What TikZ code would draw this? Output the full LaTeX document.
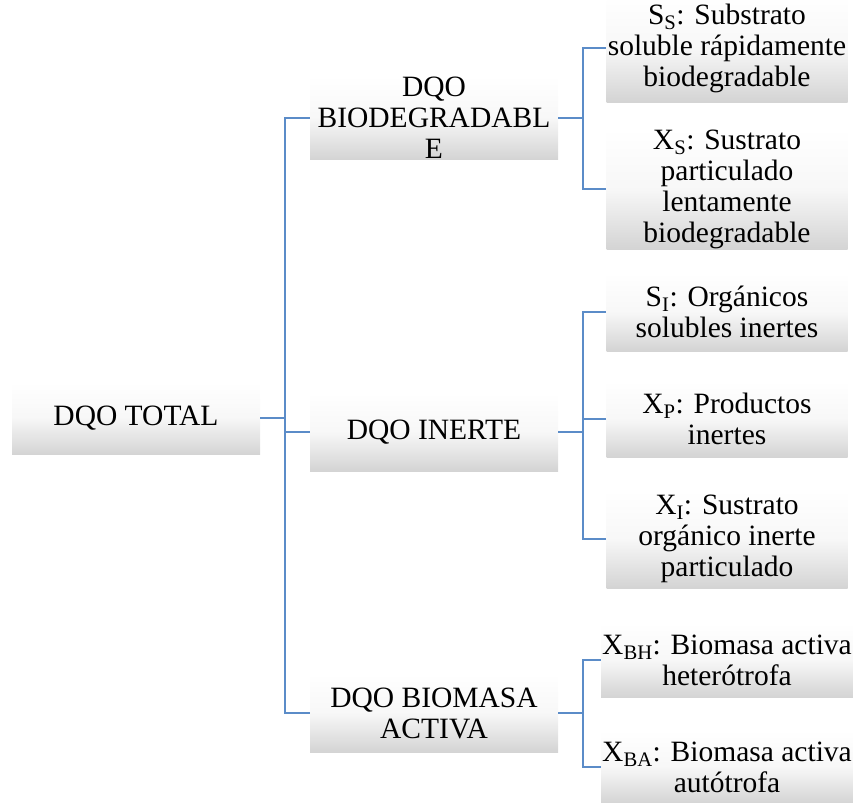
\documentclass[tikz,border=0pt]{standalone}
\usepackage{fontspec}
\setmainfont{Liberation Serif}
\usetikzlibrary{calc}
\definecolor{linkblue}{HTML}{5B8CC8}

\begin{document}
\begin{tikzpicture}[
  x=1pt, y=1pt,
  fadebox/.style={rectangle, draw=none, top color=white, bottom color=black!17, middle color=black!3, minimum width=#1, inner sep=1pt, align=center, font=\fontsize{29.5}{31}\selectfont},
  rootbox/.style={fadebox=248pt, minimum height=72pt},
  groupbox/.style={fadebox=248pt},
  leafbox/.style={fadebox=241pt},
  link/.style={draw=linkblue, line width=1.5pt}
]
  \useasboundingbox (0,0) rectangle (857,-803);

  % Root
  \node[rootbox] at (136,-418) (total) {DQO TOTAL};

  % Second level
  \node[groupbox, minimum height=76pt] at (434,-118) (bio) {DQO\\BIODEGRADABL\\E};
  \node[groupbox, minimum height=78pt] at (434,-432) (inerte) {DQO INERTE};
  \node[groupbox, minimum height=78pt] at (434,-713) (biomasa) {DQO BIOMASA\\ACTIVA};

  % Third level
  \node[leafbox, minimum height=108pt] at (727,-48) (ss) {S\textsubscript{S}: Substrato\\soluble rápidamente\\biodegradable};
  \node[leafbox, minimum height=116pt] at (727,-189) (xs) {X\textsubscript{S}: Sustrato\\particulado\\lentamente\\biodegradable};
  \node[leafbox, minimum height=78pt] at (727,-312) (si) {S\textsubscript{I}: Orgánicos\\solubles inertes};
  \node[leafbox, minimum height=76pt] at (727,-419) (xp) {X\textsubscript{P}: Productos\\inertes};
  \node[leafbox, minimum height=98pt] at (727,-539) (xi) {X\textsubscript{I}: Sustrato\\orgánico inerte\\particulado};
  \node[leafbox, minimum height=74pt] at (727,-660) (xbh) {X\textsubscript{BH}: Biomasa activa\\heterótrofa};
  \node[leafbox, minimum height=74pt] at (727,-767) (xba) {X\textsubscript{BA}: Biomasa activa\\autótrofa};

  % Connections
  \draw[link] (total.east) -- ++(25,0) coordinate (hub0);
  \foreach \n in {bio, inerte, biomasa}
    \draw[link] (hub0) |- (\n.west);

  \draw[link] (bio.east) -- ++(25,0) coordinate (hub1);
  \foreach \n in {ss, xs}
    \draw[link] (hub1) |- (\n.west);

  \draw[link] (inerte.east) -- ++(25,0) coordinate (hub2);
  \foreach \n in {si, xp, xi}
    \draw[link] (hub2) |- (\n.west);

  \draw[link] (biomasa.east) -- ++(25,0) coordinate (hub3);
  \foreach \n in {xbh, xba}
    \draw[link] (hub3) |- (\n.west);
\end{tikzpicture}
\end{document}
